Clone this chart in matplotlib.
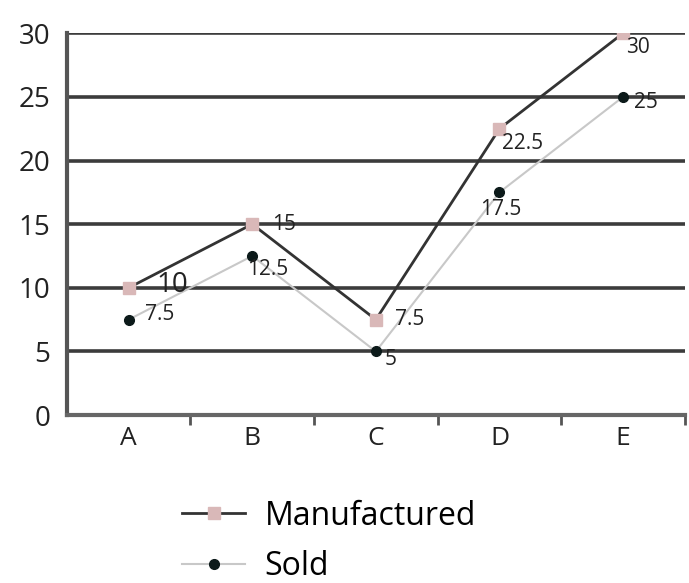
import matplotlib
matplotlib.use('Agg')
import matplotlib.pyplot as plt

categories = ['A', 'B', 'C', 'D', 'E']
manufactured = [10, 15, 7.5, 22.5, 30]
sold = [7.5, 12.5, 5, 17.5, 25]
manufactured_labels = ['10', '15', '7.5', '22.5', '30']
sold_labels = ['7.5', '12.5', '5', '17.5', '25']

plt.rcParams['font.family'] = ['Open Sans', 'DejaVu Sans']

fig = plt.figure(figsize=(6.89, 5.83), dpi=100)
ax = fig.add_axes([0.097, 0.288, 0.897, 0.655])

x = list(range(len(categories)))

# gridlines
for v in [5, 10, 15, 20, 25, 30]:
    ax.axhline(v, color='#3c3c3c', lw=2.6, zorder=1)

ax.plot(x, sold, color='#c8c8c8', lw=1.5, marker='o', ms=7,
        mfc='#0c1a1a', mec='#0c1a1a', label='Sold', zorder=3)
ax.plot(x, manufactured, color='#333333', lw=2, marker='s', ms=9,
        mfc='#d9b8b8', mec='#d9b8b8', label='Manufactured', zorder=4)

# data labels (offsets in points)
m_off = [(20, 2), (14, 0), (14, 0), (2, -11), (2, -10)]
s_off = [(12, 4), (-4, -10), (6, -6), (-14, -12), (8, -4)]
for i in x:
    ax.annotate(manufactured_labels[i], (i, manufactured[i]), xytext=m_off[i],
                textcoords='offset points', fontsize=15 if i else 20,
                va='center', ha='left', color='#222222', zorder=5)
    ax.annotate(sold_labels[i], (i, sold[i]), xytext=s_off[i],
                textcoords='offset points', fontsize=15, va='center',
                ha='left', color='#222222', zorder=5)

ax.set_xlim(-0.5, 4.5)
ax.set_ylim(0, 30)
ax.set_yticks([0, 5, 10, 15, 20, 25, 30])
ax.set_xticks(x)
ax.set_xticklabels(categories)
ax.set_xticks([0.5, 1.5, 2.5, 3.5, 4.5], minor=True)
ax.tick_params(axis='y', length=0, labelsize=20, pad=12, colors='#222222')
ax.tick_params(axis='x', which='major', length=0, labelsize=19, pad=8, colors='#222222')
ax.tick_params(axis='x', which='minor', length=7, width=2, color='#555555')

for s in ['top', 'right']:
    ax.spines[s].set_visible(False)
ax.spines['left'].set_color('#555555')
ax.spines['left'].set_linewidth(3)
ax.spines['bottom'].set_color('#666666')
ax.spines['bottom'].set_linewidth(3)

handles, labels = ax.get_legend_handles_labels()
fig.legend(handles[::-1], labels[::-1], loc='upper left',
           bbox_to_anchor=(0.245, 0.165), frameon=False, fontsize=23,
           handlelength=2.0, labelspacing=0.55, handletextpad=0.6,
           borderaxespad=0)

fig.savefig('out.png', dpi=100)
